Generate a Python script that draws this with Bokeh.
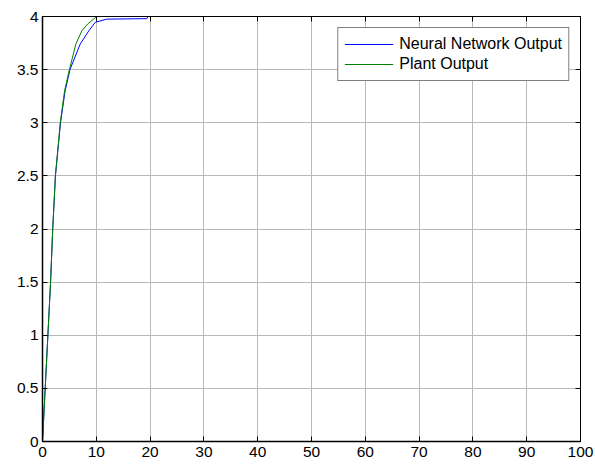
from bokeh.plotting import figure
from bokeh.models import LinearAxis, Range1d, Legend, LegendItem, NumeralTickFormatter, FixedTicker
from bokeh.embed import file_html
from bokeh.resources import INLINE

# Data
t_nn = [0, 0.5, 1.0, 1.5, 1.9, 2.4, 3.35, 4.2, 5.1, 7.0, 8.6, 9.8, 11.9, 19.4, 19.6, 100]
nn_out = [0, 0.5, 1.0, 1.5, 2.0, 2.5, 3.0, 3.3, 3.5, 3.74, 3.865, 3.945, 3.975, 3.98, 4.0, 4.0]
t_plant = [0, 0.5, 1.0, 1.5, 1.9, 2.4, 3.3, 4.1, 5.0, 6.2, 7.3, 8.4, 10.1, 100]
plant_out = [0, 0.5, 1.0, 1.5, 2.0, 2.5, 3.0, 3.3, 3.5, 3.74, 3.865, 3.93, 4.0, 4.0]
x_ticks = [0, 10, 20, 30, 40, 50, 60, 70, 80, 90, 100]
y_ticks = [0, 0.5, 1, 1.5, 2, 2.5, 3, 3.5, 4]

FONT = "Liberation Sans"

p = figure(width=595, height=466, output_backend="svg", toolbar_location=None,
           x_range=Range1d(min(x_ticks), max(x_ticks)), y_range=Range1d(min(y_ticks), max(y_ticks)),
           min_border_left=42, min_border_right=15, min_border_top=16, min_border_bottom=25)
p.background_fill_color = "white"
p.border_fill_color = "white"
p.outline_line_color = "black"
p.outline_line_width = 1

for ax in (p.xaxis[0], p.yaxis[0]):
    ax.major_tick_in = 5
    ax.major_tick_out = 0
    ax.minor_tick_in = 0
    ax.minor_tick_out = 0
    ax.axis_line_color = "black"
    ax.axis_line_width = 1.5
    ax.major_tick_line_color = "black"
    ax.major_label_text_font = FONT
    ax.major_label_text_font_size = "15.5px"
    ax.major_label_text_color = "black"

p.xaxis[0].ticker = FixedTicker(ticks=x_ticks)
p.yaxis[0].ticker = FixedTicker(ticks=y_ticks)
p.xaxis[0].major_label_standoff = 5
p.yaxis[0].major_label_standoff = 4
p.yaxis[0].formatter = NumeralTickFormatter(format="0.[0]")
p.xaxis[0].formatter = NumeralTickFormatter(format="0")

# box ticks on top and right (labels not drawn)
for loc, ticks in (("above", x_ticks), ("right", y_ticks)):
    a = LinearAxis(ticker=FixedTicker(ticks=ticks))
    a.major_tick_in = 5
    a.major_tick_out = 0
    a.minor_tick_in = 0
    a.minor_tick_out = 0
    a.major_label_text_color = None
    a.major_label_text_font_size = "1px"
    a.major_label_standoff = 0
    a.axis_line_color = "black"
    a.major_tick_line_color = "black"
    p.add_layout(a, loc)

p.xgrid.ticker = FixedTicker(ticks=x_ticks)
p.ygrid.ticker = FixedTicker(ticks=y_ticks)
p.grid.grid_line_color = "#b8b8b8"
p.grid.grid_line_width = 1

r_nn = p.line(t_nn, nn_out, line_color="#0000ff", line_width=1)
r_pl = p.line(t_plant, plant_out, line_color="#008000", line_width=1)

legend = Legend(items=[LegendItem(label="Neural Network Output", renderers=[r_nn]),
                       LegendItem(label="Plant Output", renderers=[r_pl])],
                location="top_right")
legend.label_text_font = FONT
legend.label_text_font_size = "16px"
legend.label_text_color = "black"
legend.border_line_color = "black"
legend.border_line_width = 1
legend.background_fill_color = "white"
legend.background_fill_alpha = 1
legend.glyph_width = 49
legend.glyph_height = 20
legend.label_height = 20
legend.label_standoff = 6
legend.spacing = 0
legend.padding = 6
legend.margin = 11
p.add_layout(legend, "center")

open("out.html", "w").write(file_html(p, INLINE))
